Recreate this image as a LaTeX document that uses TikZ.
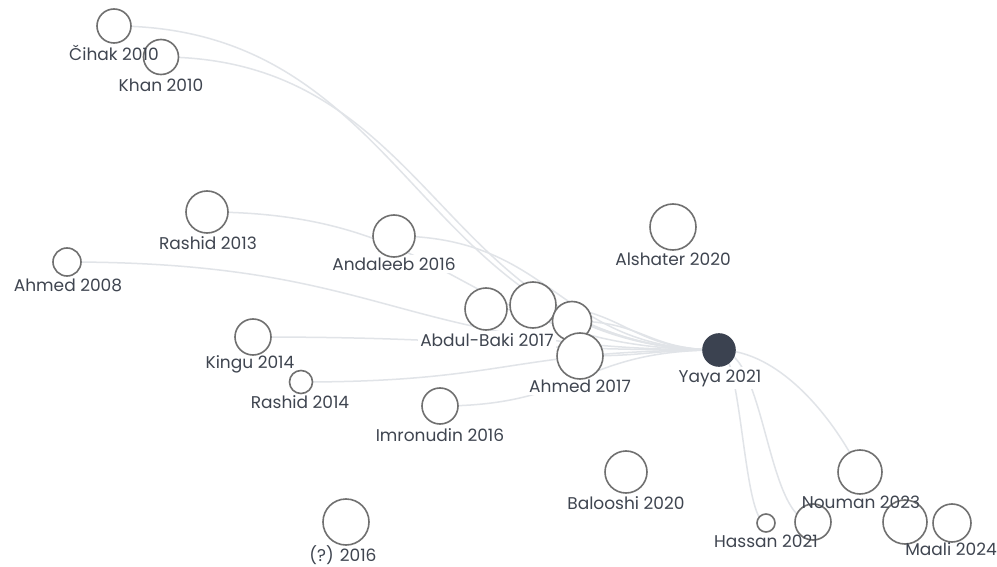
\documentclass[tikz,border=0pt]{standalone}
\usepackage{fontspec}
\setmainfont{Poppins}
\usetikzlibrary{backgrounds}
\pgfdeclarelayer{halo}
\pgfsetlayers{background,halo,main}
\definecolor{ringgray}{HTML}{707070}
\definecolor{linkgray}{HTML}{E1E4E8}
\definecolor{txtgray}{HTML}{3F4550}
\definecolor{focusfill}{HTML}{3B4250}
\tikzset{
  paper/.style={circle, draw=ringgray, line width=1.6pt, fill=white, inner sep=0pt, minimum size=#1},
  focus/.style={circle, draw=focusfill, line width=1.6pt, fill=focusfill, inner sep=0pt, minimum size=#1},
  lbl/.style={text=txtgray, font=\fontsize{17}{19}\selectfont, inner sep=0pt},
  link/.style={draw=linkgray, line width=1.5pt}
}
\begin{document}
\begin{tikzpicture}[x=1pt, y=-1pt]
\useasboundingbox (0,0) rectangle (997,567);

% papers
\node[paper=34pt] (cih) at (114,26) {};
\node[paper=35pt] (kha) at (161,57) {};
\node[paper=42pt] (ras13) at (207,212) {};
\node[paper=42pt] (and) at (394,236) {};
\node[paper=46pt] (als) at (673,227) {};
\node[paper=28pt] (ahm08) at (67,262) {};
\node[paper=36pt] (kin) at (253,337) {};
\node[paper=23pt] (ras14) at (301,382) {};
\node[paper=36pt] (imr) at (440,406) {};
\node[paper=42pt] (abd) at (486,309) {};
\node[paper=46pt] (cl2) at (533,305) {};
\node[paper=39pt] (cl3) at (572,321) {};
\node[paper=46pt] (ahm17) at (580,356) {};
\node[focus=32pt] (yay) at (719,350) {};
\node[paper=42pt] (bal) at (626,472) {};
\node[paper=46pt] (unk) at (346,522) {};
\node[paper=44pt] (nou) at (860,472) {};
\node[paper=18pt] (has) at (766,523) {};
\node[paper=36pt] (cl4) at (813,522) {};
\node[paper=44pt] (cl5) at (905,522) {};
\node[paper=38pt] (maa) at (952,523) {};

% labels
\node[lbl] (l-cih) at (114,53) {Čihak 2010};
\node[lbl] (l-kha) at (161,85) {Khan 2010};
\node[lbl] (l-ras13) at (208,243) {Rashid 2013};
\node[lbl] (l-and) at (394,264) {Andaleeb 2016};
\node[lbl] (l-als) at (673,259) {Alshater 2020};
\node[lbl] (l-ahm08) at (68,285) {Ahmed 2008};
\node[lbl] (l-kin) at (250,364) {Kingu 2014};
\node[lbl] (l-ras14) at (300,402) {Rashid 2014};
\node[lbl] (l-imr) at (440,435) {Imronudin 2016};
\node[lbl] (l-abd) at (487,340) {Abdul-Baki 2017};
\node[lbl] (l-ahm17) at (580,386) {Ahmed 2017};
\node[lbl] (l-yay) at (720,378) {Yaya 2021};
\node[lbl] (l-bal) at (626,503) {Balooshi 2020};
\node[lbl] (l-unk) at (343,555) {(?) 2016};
\node[lbl] (l-nou) at (861,502) {Nouman 2023};
\node[lbl] (l-has) at (766,541) {Hassan 2021};
\node[lbl] (l-maa) at (951,549) {Maali 2024};

% white backing behind each label, above the links
\begin{pgfonlayer}{halo}
\foreach \n in {cih,kha,ras13,and,als,ahm08,kin,ras14,imr,abd,ahm17,yay,bal,unk,nou,has,maa}
  \fill[white] ([shift={(-2,2)}]l-\n.south west) rectangle ([shift={(2,-2)}]l-\n.north east);
\end{pgfonlayer}

% white page and citation links, beneath everything else
\begin{scope}[on background layer]
\fill[white] (0,0) rectangle (997,567);
\draw[link] (cih.center) .. controls +(302,0) and +(-302,0) .. (yay.center);
\draw[link] (kha.center) .. controls +(279,0) and +(-279,0) .. (yay.center);
\draw[link] (ras13.center) .. controls +(256,0) and +(-256,0) .. (yay.center);
\draw[link] (and.center) .. controls +(162,0) and +(-162,0) .. (yay.center);
\draw[link] (ahm08.center) .. controls +(326,0) and +(-326,0) .. (yay.center);
\draw[link] (kin.center) .. controls +(233,0) and +(-233,0) .. (yay.center);
\draw[link] (ras14.center) .. controls +(209,0) and +(-209,0) .. (yay.center);
\draw[link] (imr.center) .. controls +(140,0) and +(-140,0) .. (yay.center);
\draw[link] (abd.center) .. controls +(116,0) and +(-116,0) .. (yay.center);
\draw[link] (cl2.center) .. controls +(93,0) and +(-93,0) .. (yay.center);
\draw[link] (cl3.center) .. controls +(73,0) and +(-73,0) .. (yay.center);
\draw[link] (ahm17.center) .. controls +(70,0) and +(-70,0) .. (yay.center);
\draw[link] (yay.center) .. controls +(61,0) and +(-25,-52) .. (nou.center);
\draw[link] (yay.center) .. controls +(23,0) and +(-23,0) .. (has.center);
\draw[link] (yay.center) .. controls +(47,0) and +(-47,0) .. (cl4.center);
\end{scope}
\end{tikzpicture}
\end{document}
